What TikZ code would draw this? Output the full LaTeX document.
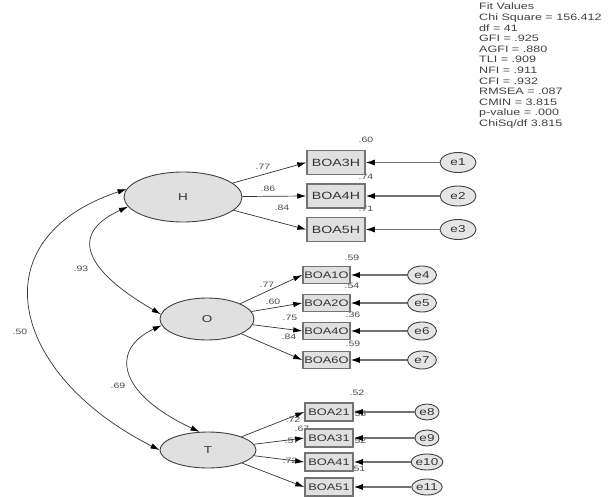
\documentclass[tikz,border=0pt]{standalone}
\usepackage{fontspec}
\setmainfont[FakeStretch=1.35]{Liberation Sans}
\usetikzlibrary{arrows.meta,shapes.geometric}
\begin{document}
\begin{tikzpicture}[x=1pt,y=-1pt,
  every node/.style={text=black!80},
  latent/.style={ellipse,draw=black!75,fill=black!12,line width=0.9pt,inner sep=0pt,
    font=\fontsize{10}{12}\selectfont},
  ind/.style={rectangle,draw=black!55,fill=black!12,line width=1.5pt,inner sep=0pt,
    font=\fontsize{10.5}{12}\selectfont},
  indsm/.style={ind,font=\fontsize{9.5}{11}\selectfont},
  err/.style={ellipse,draw=black!75,fill=black!10,line width=0.9pt,inner sep=0pt,
    font=\fontsize{10}{12}\selectfont},
  coef/.style={font=\fontsize{7.8}{9}\selectfont,text=black!70,inner sep=0pt},
  load/.style={draw=black!80,line width=0.7pt,-{Latex[length=9pt,width=5.5pt,color=black]}},
  cov/.style={draw=black!80,line width=0.7pt,
    {Latex[length=9pt,width=5.5pt,color=black]}-{Latex[length=9pt,width=5.5pt,color=black]}},
  errpath/.style={draw=black!55,line width=1.1pt,-{Latex[length=9pt,width=6pt,color=black]}}
]
\useasboundingbox (0,0) rectangle (613,497);

% fit statistics
\node[anchor=north west,align=left,inner sep=0pt,text=black!75,
  font=\fontsize{9.3}{10.6}\selectfont] (fit) at (479,3)
  {Fit Values\\Chi Square = 156.412\\df = 41\\GFI = .925\\AGFI = .880\\TLI = .909\\
   NFI = .911\\CFI = .932\\RMSEA = .087\\CMIN = 3.815\\p-value = .000\\ChiSq/df 3.815};

% coefficients (set first so the boxes partly cover them)
\node[coef] (lh1) at (263,167) {.77};
\node[coef] (lh2) at (268,189) {.86};
\node[coef] (lh3) at (282,208) {.84};
\node[coef] (rh1) at (366,140) {.60};
\node[coef] (rh2) at (366,177) {.74};
\node[coef] (rh3) at (366,209) {.71};

\node[coef] (lo1) at (267,285) {.77};
\node[coef] (lo2) at (273,302) {.60};
\node[coef] (lo3) at (290,318) {.75};
\node[coef] (lo4) at (289,337) {.84};
\node[coef] (ro1) at (352,258) {.59};
\node[coef] (ro2) at (352,286) {.54};
\node[coef] (ro3) at (353,315) {.36};
\node[coef] (ro4) at (353,344) {.59};

\node[coef] (lt1) at (293,420) {.72};
\node[coef] (lt2) at (302,429) {.67};
\node[coef] (lt3) at (292,441) {.57};
\node[coef] (lt4) at (290,461) {.72};
\node[coef] (rt1) at (357,393) {.52};
\node[coef] (rt2) at (359,414) {.55};
\node[coef] (rt3) at (359,441) {.52};
\node[coef] (rt4) at (358,469) {.51};

\node[coef] (cho) at (81,269) {.93};
\node[coef] (cot) at (118,386) {.69};
\node[coef] (cht) at (20,332) {.50};

% latent factors
\node[latent,minimum width=118,minimum height=50] (H) at (183,197) {H};
\node[latent,minimum width=94,minimum height=42] (O) at (207,319) {O};
\node[latent,minimum width=96,minimum height=36] (T) at (208,450) {T};

% indicators of H
\node[ind,minimum width=58,minimum height=24] (b3h) at (336,162.5) {BOA3H};
\node[ind,minimum width=58,minimum height=24] (b4h) at (336,196) {BOA4H};
\node[ind,minimum width=58,minimum height=24] (b5h) at (336,229.5) {BOA5H};
% indicators of O
\node[indsm,minimum width=47,minimum height=17] (b1o) at (326.5,275) {BOA1O};
\node[indsm,minimum width=47,minimum height=17] (b2o) at (326.5,303) {BOA2O};
\node[indsm,minimum width=47,minimum height=17] (b4o) at (326.5,331) {BOA4O};
\node[indsm,minimum width=47,minimum height=17] (b6o) at (326.5,360) {BOA6O};
% indicators of T
\node[indsm,minimum width=48,minimum height=18] (b21) at (329,412) {BOA21};
\node[indsm,minimum width=48,minimum height=18] (b31) at (329,438) {BOA31};
\node[indsm,minimum width=48,minimum height=18] (b41) at (329,462) {BOA41};
\node[indsm,minimum width=48,minimum height=18] (b51) at (329,487) {BOA51};

% error terms
\node[err,minimum width=36,minimum height=20] (e1) at (458,162.5) {e1};
\node[err,minimum width=36,minimum height=20] (e2) at (458,196) {e2};
\node[err,minimum width=36,minimum height=20] (e3) at (458,229.5) {e3};
\node[err,minimum width=29,minimum height=18] (e4) at (422,275) {e4};
\node[err,minimum width=29,minimum height=18] (e5) at (422,303) {e5};
\node[err,minimum width=29,minimum height=18] (e6) at (422,331) {e6};
\node[err,minimum width=29,minimum height=18] (e7) at (422,360) {e7};
\node[err,minimum width=24,minimum height=16] (e8) at (427,412) {e8};
\node[err,minimum width=24,minimum height=16] (e9) at (427,438) {e9};
\node[err,minimum width=24,minimum height=16] (e10) at (427,462) {e10};
\node[err,minimum width=24,minimum height=16] (e11) at (427,487) {e11};

% factor loadings
\foreach \b in {b3h,b4h,b5h} \draw[load] (H) -- (\b.west);
\foreach \b in {b1o,b2o,b4o,b6o} \draw[load] (O) -- (\b.west);
\foreach \b in {b21,b31,b41,b51} \draw[load] (T) -- (\b.west);

% error paths
\foreach \e/\b in {e1/b3h,e2/b4h,e3/b5h,e4/b1o,e5/b2o,e6/b4o,e7/b6o,e8/b21,e9/b31,e10/b41,e11/b51}
  \draw[errpath] (\e) -- (\b);

% factor covariances
\draw[cov] (H.172) .. controls +(-150,50) and +(-149,-75) .. (T.west);
\draw[cov] (H.190) .. controls +(-66,30) and +(-66,-38) .. (O.174);
\draw[cov] (O.188) .. controls +(-50,23) and +(-85,-40) .. (T.115);
\end{tikzpicture}
\end{document}
